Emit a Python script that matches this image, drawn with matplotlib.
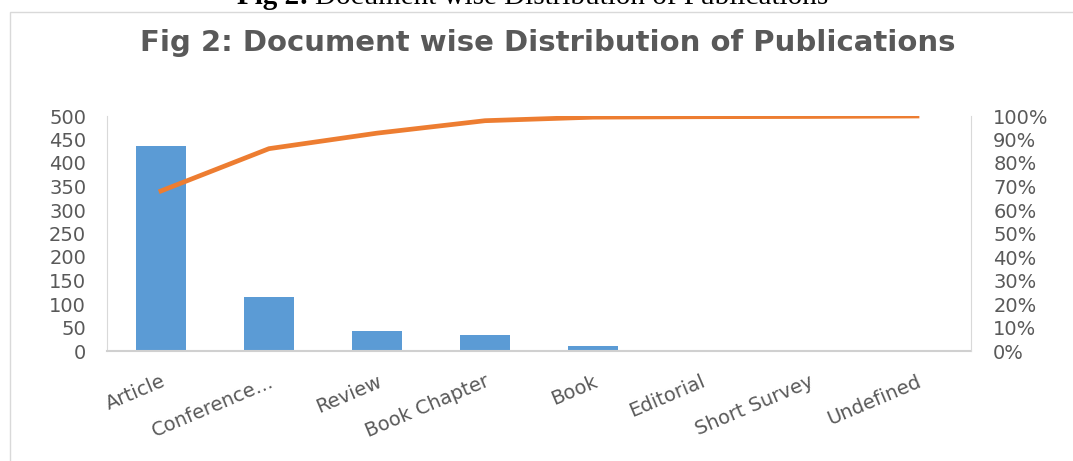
import numpy as np
import matplotlib.pyplot as plt
from matplotlib.patches import Rectangle
from matplotlib.ticker import PercentFormatter

categories = ['Article', 'Conference...', 'Review', 'Book Chapter', 'Book',
              'Editorial', 'Short Survey', 'Undefined']
counts = [436, 115, 42, 34, 10, 1, 1, 1]
cum_pct = [68.1, 86.1, 92.7, 98.0, 99.5, 99.7, 99.8, 100.0]

W, H = 1073, 461
fig = plt.figure(figsize=(W / 100, H / 100), dpi=100)
fig.patch.set_facecolor('white')

# chart frame
fig.patches.append(Rectangle((10 / W, -0.01), 1.0, 1 - 12 / H + 0.01,
                             transform=fig.transFigure, fill=False,
                             edgecolor='#d9d9d9', linewidth=1.0))

# caption, cut off at the top like in the source
fig.text(309 / W, 1 - 4 / H, 'Fig 2:', ha='right', va='baseline',
         family='Liberation Serif', fontweight='bold', fontsize=21, color='black')
fig.text(315 / W, 1 - 4 / H, 'Document wise Distribution of Publications',
         ha='left', va='baseline', family='Liberation Serif',
         fontsize=21, color='black')

fig.text(548 / W, 1 - 43 / H, 'Fig 2: Document wise Distribution of Publications',
         ha='center', va='center', family='DejaVu Sans', fontweight='bold',
         fontsize=21, color='#595959')

tick_font = 'DejaVu Sans'

ax = fig.add_axes([107 / W, 1 - 351 / H, 864 / W, 235 / H])
x = np.arange(len(categories))
ax.bar(x, counts, width=0.47, color='#5B9BD5', zorder=2)
ax.set_xlim(-0.5, len(categories) - 0.5)
ax.set_ylim(0, 500)
ax.set_yticks(np.arange(0, 501, 50))
ax.set_xticks(x)
ax.set_xticklabels(categories, rotation=23, ha='right', rotation_mode='anchor')
ax.tick_params(axis='both', length=0, labelsize=14, labelcolor='#595959')
ax.tick_params(axis='y', pad=15)
ax.tick_params(axis='x', pad=15)
for lab in ax.get_xticklabels() + ax.get_yticklabels():
    lab.set_family(tick_font)
ax.spines['top'].set_visible(False)
ax.spines['left'].set_color('#d9d9d9')
ax.spines['bottom'].set_color('#d0d0d0')
ax.spines['bottom'].set_linewidth(1.5)
ax.spines['right'].set_visible(False)

ax2 = ax.twinx()
ax2.plot(x, cum_pct, color='#ED7D31', linewidth=3.4, zorder=3)
ax2.set_ylim(0, 100)
ax2.set_yticks(np.arange(0, 101, 10))
ax2.yaxis.set_major_formatter(PercentFormatter(decimals=0))
ax2.tick_params(axis='y', length=0, labelsize=14, labelcolor='#595959', pad=16)
for lab in ax2.get_yticklabels():
    lab.set_family(tick_font)
for s in ['top', 'left', 'bottom']:
    ax2.spines[s].set_visible(False)
ax2.spines['right'].set_color('#d9d9d9')

fig.savefig('out.png', dpi=100)
